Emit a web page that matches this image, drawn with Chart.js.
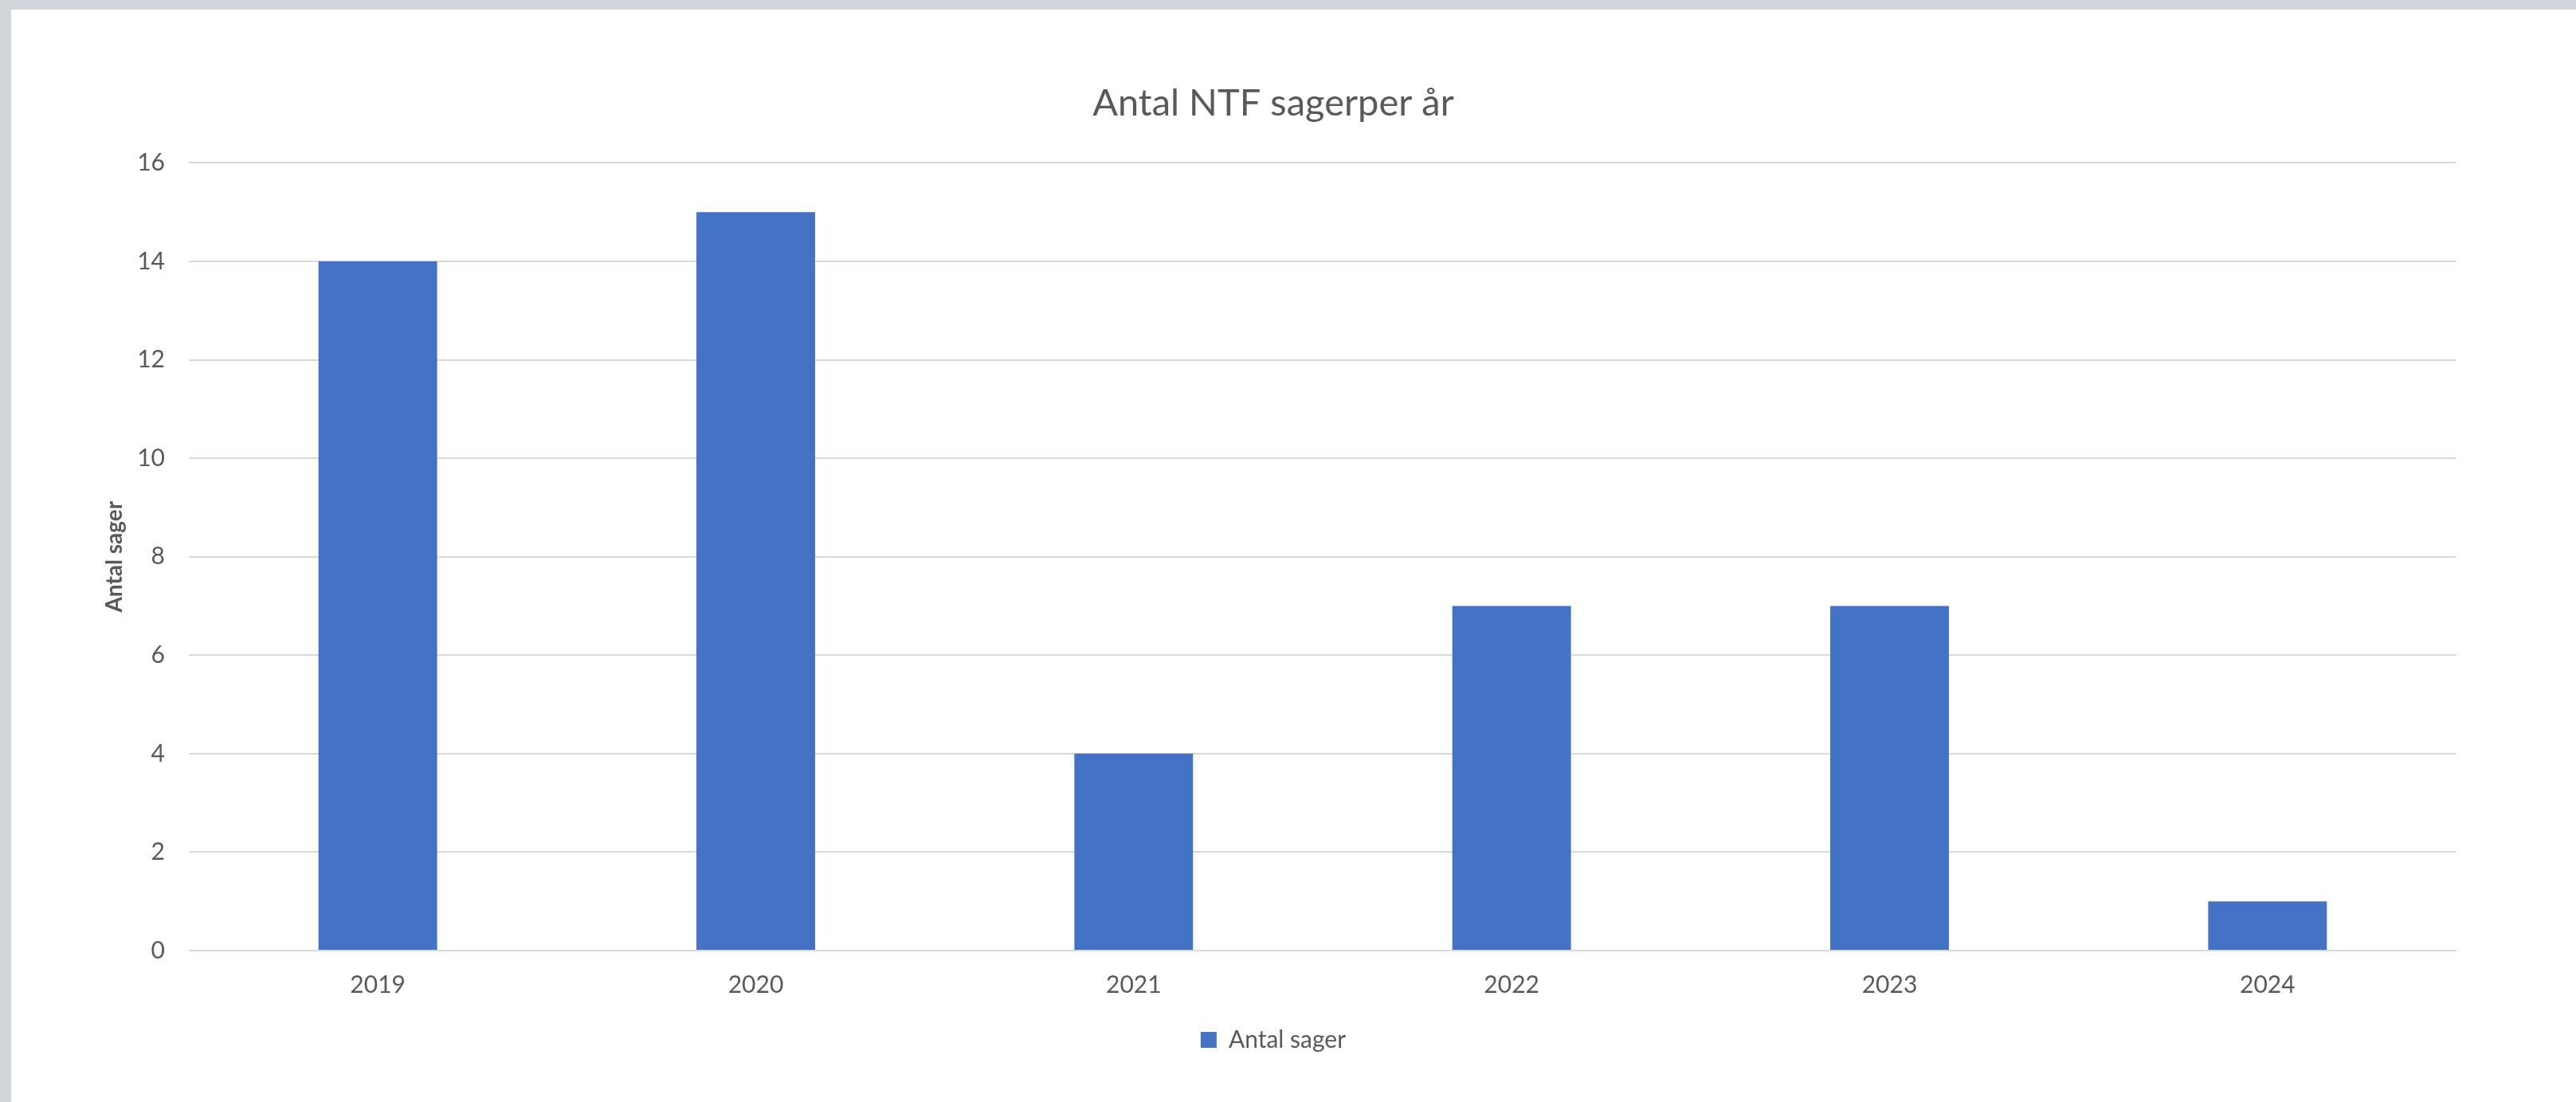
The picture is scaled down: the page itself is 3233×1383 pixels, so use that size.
<!DOCTYPE html>
<html lang="da">
<head>
    <meta charset="UTF-8">
    <title>Antal NTF sagerper år</title>
    <script src="https://cdn.jsdelivr.net/npm/chart.js"></script>
    <style>
        html, body {
            margin: 0;
            padding: 0;
            background-color: #d1d6db;
            overflow: hidden;
        }
        .card {
            position: absolute;
            left: 14px;
            top: 12px;
            width: 3400px;
            height: 1500px;
            background-color: white;
        }
    </style>
</head>
<body>
    <div class="card">
        <canvas id="sager-chart" width="3219" height="1371"></canvas>
    </div>

    <script>
        const years = ['2019', '2020', '2021', '2022', '2023', '2024'];
        const antalSager = [14, 15, 4, 7, 7, 1];
        const yTicks = [0, 2, 4, 6, 8, 10, 12, 14, 16];

        const textColor = '#595959';
        const fontFamily = 'Lato, "Open Sans", sans-serif';

        const ctx = document.getElementById('sager-chart').getContext('2d');

        new Chart(ctx, {
            type: 'bar',
            data: {
                labels: years,
                datasets: [{
                    label: 'Antal sager',
                    data: antalSager,
                    backgroundColor: '#4472c4',
                    borderWidth: 0,
                    categoryPercentage: 1.0,
                    barPercentage: 0.314
                }]
            },
            options: {
                responsive: false,
                animation: false,
                layout: {
                    // left/right differ so the title and legend sit where Excel put them
                    padding: { left: 99, right: 150, top: 0, bottom: 53 }
                },
                plugins: {
                    title: {
                        display: true,
                        text: 'Antal NTF sagerper år',
                        color: textColor,
                        font: { family: fontFamily, size: 47, weight: 'normal' },
                        padding: { top: 90, bottom: 46 }
                    },
                    legend: {
                        position: 'bottom',
                        labels: {
                            color: textColor,
                            font: { family: fontFamily, size: 30 },
                            boxWidth: 20,
                            boxHeight: 20,
                            padding: 11
                        }
                    },
                    tooltip: { enabled: false }
                },
                scales: {
                    x: {
                        grid: { display: false, drawTicks: false },
                        border: { display: false },
                        ticks: {
                            color: textColor,
                            font: { family: fontFamily, size: 30 },
                            padding: 25
                        }
                    },
                    y: {
                        min: 0,
                        max: 16,
                        afterBuildTicks: function(scale) {
                            scale.ticks = yTicks.map(v => ({ value: v }));
                        },
                        afterFit: function(scale) {
                            scale.width = 124;
                        },
                        grid: {
                            color: '#d9d9d9',
                            lineWidth: 2,
                            drawTicks: false
                        },
                        border: { display: false },
                        ticks: {
                            color: textColor,
                            font: { family: fontFamily, size: 30 },
                            padding: 30
                        },
                        title: {
                            display: true,
                            text: 'Antal sager',
                            color: textColor,
                            font: { family: fontFamily, size: 28, weight: 'bold' },
                            padding: { top: 14, bottom: 0 }
                        }
                    }
                }
            }
        });
    </script>
</body>
</html>
